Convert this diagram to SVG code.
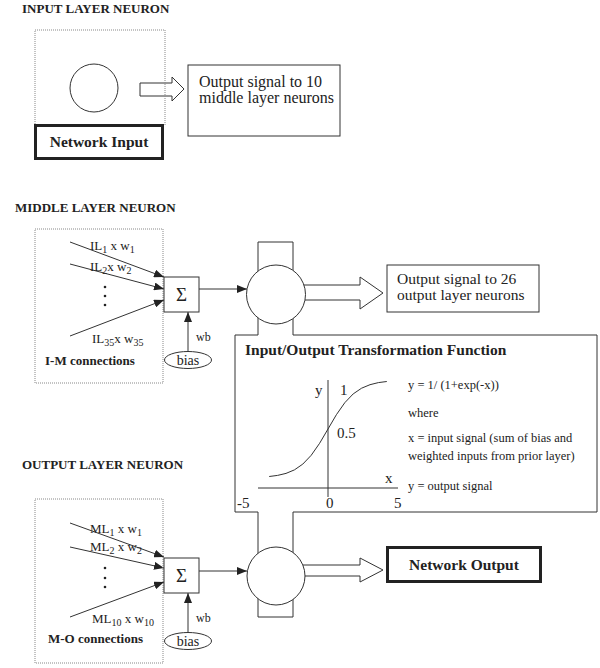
<svg xmlns="http://www.w3.org/2000/svg" width="600" height="668" viewBox="0 0 600 668">
<style>
.t{font-family:"Liberation Serif","Times New Roman",serif;fill:#222}
.b{font-weight:bold}
.ttl{font-size:13px;font-weight:bold}
.sub{font-size:10px}
.lbl{font-size:13px}
.ln{stroke:#333;stroke-width:1;fill:none}
.dot{stroke:#888;stroke-width:1;fill:none;stroke-dasharray:1 1}
.wh{stroke:#333;stroke-width:1;fill:#fff}
.bold{stroke:#222;stroke-width:3;fill:#fff}
</style>
<defs>
<marker id="ah" viewBox="0 0 10 8" refX="10" refY="4" markerWidth="10" markerHeight="8" orient="auto" markerUnits="userSpaceOnUse">
<path d="M0,0 L10,4 L0,8 Z" fill="#222"/>
</marker>
</defs>
<rect width="600" height="668" fill="#fff"/>

<!-- section titles -->
<text class="t ttl" x="22" y="13">INPUT LAYER NEURON</text>
<text class="t ttl" x="15" y="212">MIDDLE LAYER NEURON</text>
<text class="t ttl" x="22" y="469">OUTPUT LAYER NEURON</text>

<!-- transformation function box with channels -->
<g id="transfer-function">
<path class="ln" d="M258,242 H293 V335 H597 V512 H293 V617 H258 V512 H235 V335 H258 Z"/>
<text class="t b" style="font-size:15.5px" x="245" y="355">Input/Output Transformation Function</text>
<line class="ln" x1="328" y1="380" x2="328" y2="497"/>
<line class="ln" x1="258" y1="488" x2="398" y2="488"/>
<polyline class="ln" points="269.2,476.5 277.6,475.4 286,473.4 294.4,469.9 302.8,464.1 311.2,455.3 319.6,443.3 328,429 336.4,414.7 344.8,402.7 353.2,393.9 361.6,388.2 370,384.7 378.4,382.6 386.8,381.5"/>
<g class="t" style="font-size:15px">
<text x="315" y="395">y</text>
<text x="340" y="395">1</text>
<text x="337" y="438">0.5</text>
<text x="385" y="483">x</text>
<text x="237" y="508">-5</text>
<text x="326" y="508">0</text>
<text x="394" y="508">5</text>
</g>
<g class="t" style="font-size:12.5px">
<text x="408" y="389">y = 1/ (1+exp(-x))</text>
<text x="408" y="417">where</text>
<text x="408" y="442">x = input signal (sum of bias and</text>
<text x="408" y="460">weighted inputs from prior layer)</text>
<text x="408" y="490">y = output signal</text>
</g>
</g>

<!-- connectors -->
<g id="connectors">
<path class="ln" d="M140,83 H172 V77 L184,89 L172,101 V96 H140 Z" fill="#fff"/>
<path class="ln" d="M300,285 H360 V277 L383,293 L360,309 V300 H300 Z" fill="#fff"/>
<path class="ln" d="M300,565 H360 V558 L383,570 L360,582 V576 H300 Z" fill="#fff"/>
<line class="ln" x1="70" y1="242" x2="164" y2="277" marker-end="url(#ah)"/>
<line class="ln" x1="70" y1="264" x2="164" y2="289" marker-end="url(#ah)"/>
<line class="ln" x1="70" y1="336" x2="164" y2="300" marker-end="url(#ah)"/>
<line class="ln" x1="188" y1="352" x2="188" y2="312" marker-end="url(#ah)"/>
<line class="ln" x1="199" y1="289" x2="247" y2="289" marker-end="url(#ah)"/>
<line class="ln" x1="70" y1="523" x2="164" y2="557" marker-end="url(#ah)"/>
<line class="ln" x1="70" y1="547" x2="164" y2="568" marker-end="url(#ah)"/>
<line class="ln" x1="70" y1="617" x2="164" y2="582" marker-end="url(#ah)"/>
<line class="ln" x1="188" y1="633" x2="188" y2="593" marker-end="url(#ah)"/>
<line class="ln" x1="199" y1="571" x2="247" y2="571" marker-end="url(#ah)"/>
</g>

<!-- input layer -->
<g id="input-neuron">
<rect class="dot" x="35" y="30" width="130" height="95"/>
<circle class="wh" cx="94" cy="88" r="24"/>
</g>
<g id="network-input">
<rect class="bold" x="35.5" y="125.5" width="127" height="33"/>
<text class="t b" style="font-size:15.5px" x="99" y="147" text-anchor="middle">Network Input</text>
</g>
<g id="output-to-middle">
<rect class="wh" x="188" y="65" width="152" height="71"/>
<text class="t" style="font-size:16px" x="199" y="87">Output signal to 10</text>
<text class="t" style="font-size:16px" x="199" y="103">middle layer neurons</text>
</g>

<!-- middle layer -->
<g id="im-connections">
<rect class="dot" x="35" y="229" width="128" height="154"/>
<text class="t lbl" x="90" y="250">IL<tspan class="sub" dy="3">1</tspan><tspan dy="-3"> x w</tspan><tspan class="sub" dy="3">1</tspan></text>
<text class="t lbl" x="90" y="271">IL<tspan class="sub" dy="3">2</tspan><tspan dy="-3">x w</tspan><tspan class="sub" dy="3">2</tspan></text>
<text class="t lbl" x="92" y="343">IL<tspan class="sub" dy="3">35</tspan><tspan dy="-3">x w</tspan><tspan class="sub" dy="3">35</tspan></text>
<circle cx="105" cy="287" r="1.3" fill="#222"/>
<circle cx="105" cy="296" r="1.3" fill="#222"/>
<circle cx="105" cy="305" r="1.3" fill="#222"/>
<text class="t b" style="font-size:13px" x="45" y="365">I-M connections</text>
</g>
<g id="middle-sum">
<rect class="wh" x="164" y="277" width="35" height="35"/>
<text class="t" style="font-size:19px" x="181.5" y="301" text-anchor="middle">Σ</text>
</g>
<g id="middle-bias">
<ellipse class="wh" cx="188" cy="360" rx="23.5" ry="8.5"/>
<text class="t" style="font-size:14px" x="188" y="365" text-anchor="middle">bias</text>
<text class="t" style="font-size:12px" x="196" y="341">wb</text>
</g>
<g id="middle-neuron">
<circle class="wh" cx="276" cy="294.5" r="29.5"/>
</g>
<g id="output-to-output">
<rect class="wh" x="387" y="265" width="152" height="47"/>
<text class="t" style="font-size:15.5px" x="397" y="284">Output signal to 26</text>
<text class="t" style="font-size:15.5px" x="397" y="300">output layer neurons</text>
</g>

<!-- output layer -->
<g id="mo-connections">
<rect class="dot" x="35" y="499" width="128" height="164"/>
<text class="t lbl" x="90" y="533">ML<tspan class="sub" dy="3">1</tspan><tspan dy="-3"> x w</tspan><tspan class="sub" dy="3">1</tspan></text>
<text class="t lbl" x="90" y="551">ML<tspan class="sub" dy="3">2</tspan><tspan dy="-3"> x w</tspan><tspan class="sub" dy="3">2</tspan></text>
<text class="t lbl" x="92" y="623">ML<tspan class="sub" dy="3">10</tspan><tspan dy="-3"> x w</tspan><tspan class="sub" dy="3">10</tspan></text>
<circle cx="105" cy="568" r="1.3" fill="#222"/>
<circle cx="105" cy="578" r="1.3" fill="#222"/>
<circle cx="105" cy="587" r="1.3" fill="#222"/>
<text class="t b" style="font-size:13px" x="48" y="643">M-O connections</text>
</g>
<g id="output-sum">
<rect class="wh" x="164" y="558" width="35" height="35"/>
<text class="t" style="font-size:19px" x="181.5" y="582" text-anchor="middle">Σ</text>
</g>
<g id="output-bias">
<ellipse class="wh" cx="188" cy="641" rx="23.5" ry="8.5"/>
<text class="t" style="font-size:14px" x="188" y="646" text-anchor="middle">bias</text>
<text class="t" style="font-size:12px" x="196" y="622">wb</text>
</g>
<g id="output-neuron">
<circle class="wh" cx="276" cy="576" r="29"/>
</g>
<g id="network-output">
<rect class="bold" x="387.5" y="547.5" width="153" height="34"/>
<text class="t b" style="font-size:15.5px" x="464" y="570" text-anchor="middle">Network Output</text>
</g>
</svg>
